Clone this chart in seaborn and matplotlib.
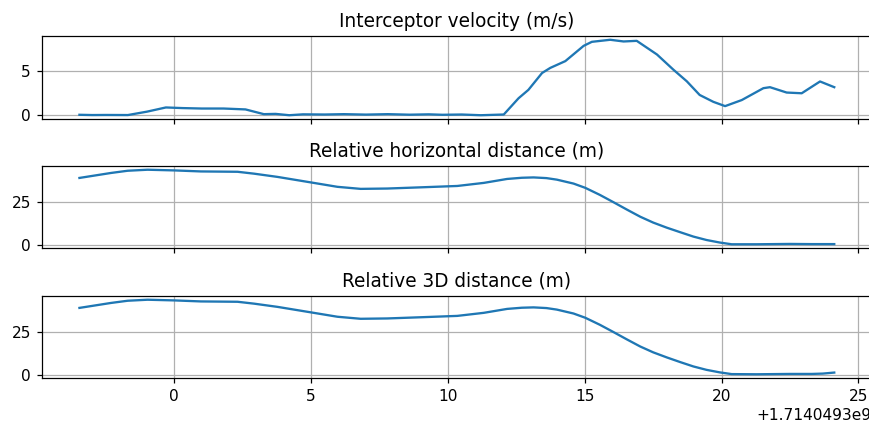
import matplotlib
matplotlib.use("Agg")
import matplotlib.pyplot as plt
import seaborn as sns

T0 = 1714049300.0

# Interceptor speed samples (time offset in s, speed in m/s)
vel_t = [-3.47, -3.0, -2.5, -1.7, -1.0, -0.31, 0.3, 1.0, 1.8, 2.6, 3.27, 3.7,
         4.2, 4.7, 5.5, 6.2, 7.0, 7.8, 8.6, 9.3, 9.8, 10.5, 11.2, 12.04, 12.58,
         12.94, 13.44, 13.74, 14.29, 14.96, 15.26, 15.93, 16.42, 16.9, 17.64,
         18.24, 18.73, 19.2, 19.7, 20.13, 20.74, 21.53, 21.77, 22.38, 22.93,
         23.6, 24.12]
vel = [0.05, 0.02, 0.03, 0.02, 0.4, 0.87, 0.8, 0.75, 0.75, 0.65, 0.12, 0.15,
       0.0, 0.1, 0.08, 0.12, 0.07, 0.12, 0.06, 0.1, 0.05, 0.08, 0.0, 0.08, 1.9,
       2.84, 4.73, 5.3, 6.06, 7.77, 8.22, 8.45, 8.26, 8.33, 6.8, 5.1, 3.8, 2.27,
       1.5, 1.02, 1.7, 3.03, 3.14, 2.54, 2.46, 3.78, 3.14]

# Relative distance samples (time offset in s, distance in m)
dist_t = [-3.47, -2.32, -1.71, -0.98, 0.0, 0.97, 2.31, 2.91, 3.77, 4.98, 5.96,
          6.81, 7.78, 9.0, 10.34, 11.31, 12.16, 12.7, 13.13, 13.6, 13.98, 14.59,
          15.02, 15.55, 16.05, 16.55, 17.03, 17.5, 18.0, 18.5, 18.97, 19.45,
          19.94, 20.37, 21.28, 22.5, 23.3, 23.7, 24.12]
dist_h = [39.2, 42.1, 43.4, 44.0, 43.6, 43.0, 42.8, 41.7, 39.8, 36.6, 34.0,
          32.8, 33.0, 33.7, 34.5, 36.3, 38.6, 39.3, 39.5, 39.1, 38.2, 35.9,
          33.4, 29.3, 25.0, 20.6, 16.5, 13.1, 10.1, 7.4, 4.9, 2.9,
          1.4, 0.4, 0.4, 0.6, 0.5, 0.5, 0.5]
dist_3d = [39.4, 42.3, 43.6, 44.2, 43.8, 43.2, 43.0, 41.9, 40.0, 36.8, 34.2,
           33.0, 33.2, 33.9, 34.7, 36.5, 38.8, 39.5, 39.7, 39.3, 38.4, 36.1,
           33.6, 29.5, 25.2, 20.8, 16.7, 13.3, 10.3, 7.5, 5.0, 3.0,
           1.5, 0.5, 0.4, 0.6, 0.6, 0.8, 1.4]

titles = ["Interceptor velocity (m/s)",
          "Relative horizontal distance (m)",
          "Relative 3D distance (m)"]

series = [(vel_t, vel), (dist_t, dist_h), (dist_t, dist_3d)]

W, H, DPI = 869, 423, 111
fig, axes = plt.subplots(3, 1, sharex=True, figsize=(W / DPI, H / DPI), dpi=DPI)

# axes boxes in pixels: (left, top, right, bottom)
boxes = [(41.7, 36, 872, 119), (41.7, 166, 872, 248), (41.7, 296, 872, 378)]

for ax, (t, y), title, (l, tp, r, b) in zip(axes, series, titles, boxes):
    ax.set_position([l / W, 1 - b / H, (r - l) / W, (b - tp) / H])
    sns.lineplot(x=[T0 + v for v in t], y=y, ax=ax, color="#1f77b4",
                 linewidth=1.5)
    ax.set_title(title, fontsize=12)
    ax.grid(True, color="#b0b0b0", linewidth=0.8)
    ax.set_xlabel("")
    ax.set_ylabel("")

axes[0].set_yticks([0, 5])
axes[1].set_yticks([0, 25])
axes[2].set_yticks([0, 25])

fig.savefig("out.png", dpi=DPI)
